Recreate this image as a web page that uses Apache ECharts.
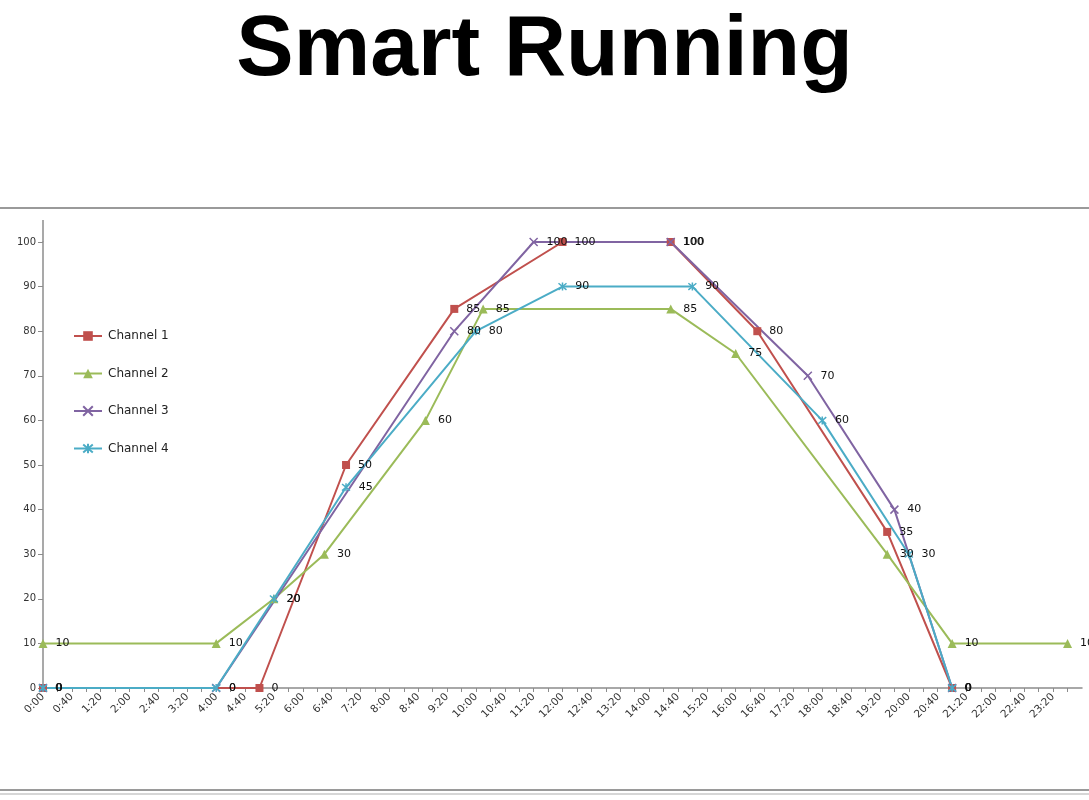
<!DOCTYPE html>
<html>
<head>
<meta charset="utf-8">
<script src="https://cdn.jsdelivr.net/npm/echarts@6/dist/echarts.min.js"></script>
<style>
html,body{margin:0;padding:0;background:#fff;}
#chart{width:1089px;height:800px;}
</style>
</head>
<body>
<div id="chart"></div>
<script>
// Times in minutes after midnight; values in percent
const seriesNames = ['Channel 1', 'Channel 2', 'Channel 3', 'Channel 4'];
const ch1Times  = [0, 300, 420, 570, 720, 870, 990, 1170, 1260];
const ch1Values = [0, 0, 50, 85, 100, 100, 80, 35, 0];
const ch2Times  = [0, 240, 320, 390, 530, 610, 870, 960, 1170, 1260, 1420];
const ch2Values = [10, 10, 20, 30, 60, 85, 85, 75, 30, 10, 10];
const ch3Times  = [0, 240, 570, 680, 870, 1060, 1180, 1260];
const ch3Values = [0, 0, 80, 100, 100, 70, 40, 0];
const ch4Times  = [0, 240, 320, 420, 600, 720, 900, 1080, 1200, 1260];
const ch4Values = [0, 0, 20, 45, 80, 90, 90, 60, 30, 0];
const yTicks = [0, 10, 20, 30, 40, 50, 60, 70, 80, 90, 100];

const colors = ['#C0504D', '#9BBB59', '#8064A2', '#4BACC6'];
const symbols = [
  'rect',
  'triangle',
  'path://M0,0L10,10M10,0L0,10',
  'path://M0,0L10,10M10,0L0,10M5,-1L5,11'
];

function fmtTime(v) {
  const h = Math.floor(v / 60), m = v % 60;
  return h + ':' + (m < 10 ? '0' + m : m);
}
function pairs(t, v) { return t.map((x, i) => [x, v[i]]); }

const allTimes = [ch1Times, ch2Times, ch3Times, ch4Times];
const allValues = [ch1Values, ch2Values, ch3Values, ch4Values];

const series = seriesNames.map((name, i) => {
  const isPath = i >= 2;
  return {
    name: name,
    type: 'line',
    data: pairs(allTimes[i], allValues[i]),
    symbol: symbols[i],
    symbolSize: i === 1 ? 9 : 8,
    showAllSymbol: true,
    lineStyle: { color: colors[i], width: 2 },
    itemStyle: isPath
      ? { color: colors[i], borderColor: colors[i], borderWidth: 1.5 }
      : { color: colors[i], borderColor: colors[i], borderWidth: 0 },
    label: {
      show: true,
      position: 'right',
      distance: 8,
      fontSize: 11,
      fontFamily: 'DejaVu Sans',
      color: '#111',
      formatter: p => p.value[1]
    },
    emphasis: { disabled: true },
    animation: false
  };
});

const chart = echarts.init(document.getElementById('chart'), null, { renderer: 'canvas' });
chart.setOption({
  backgroundColor: '#fff',
  animation: false,
  title: {
    text: 'Smart Running',
    left: 'center',
    top: 3,
    textStyle: {
      fontFamily: 'Liberation Sans',
      fontWeight: 'bold',
      fontSize: 86,
      color: '#000'
    }
  },
  legend: {
    orient: 'vertical',
    left: 73,
    top: 330,
    padding: 0,
    itemWidth: 28,
    itemHeight: 12,
    itemGap: 25.5,
    textStyle: { fontFamily: 'DejaVu Sans', fontSize: 12, color: '#222', padding: [0, 0, 0, 1] },
    data: seriesNames
  },
  grid: { left: 43, right: 7, top: 242, bottom: 112, containLabel: false },
  xAxis: {
    type: 'value',
    min: 0,
    max: 1440,
    interval: 20,
    axisLine: { show: true, lineStyle: { color: '#8c8c8c', width: 1.5 } },
    axisTick: { show: true, inside: false, length: 4, lineStyle: { color: '#8c8c8c' } },
    splitLine: { show: false },
    axisLabel: {
      rotate: 45,
      margin: 7,
      fontSize: 10.5,
      fontFamily: 'DejaVu Sans',
      color: '#333',
      showMaxLabel: false,
      formatter: v => (v % 40 === 0 && v < 1440) ? fmtTime(v) : ''
    }
  },
  yAxis: {
    type: 'value',
    min: 0,
    max: 100,
    interval: 10,
    axisLine: { show: true, lineStyle: { color: '#8c8c8c', width: 1.5 } },
    axisTick: { show: true, length: 5, lineStyle: { color: '#8c8c8c' } },
    splitLine: { show: false },
    axisLabel: {
      margin: 7,
      fontSize: 10,
      fontFamily: 'DejaVu Sans',
      color: '#333',
      formatter: v => yTicks.indexOf(v) >= 0 ? String(v) : ''
    }
  },
  graphic: [
    { type: 'line', shape: { x1: 0, y1: 208, x2: 1089, y2: 208 }, style: { stroke: '#9a9a9a', lineWidth: 2 }, silent: true },
    { type: 'line', shape: { x1: 43, y1: 220, x2: 43, y2: 242 }, style: { stroke: '#8c8c8c', lineWidth: 1.5 }, silent: true },
    { type: 'line', shape: { x1: 0, y1: 790, x2: 1089, y2: 790 }, style: { stroke: '#9a9a9a', lineWidth: 2 }, silent: true },
    { type: 'line', shape: { x1: 0, y1: 794, x2: 1089, y2: 794 }, style: { stroke: '#c8c8c8', lineWidth: 1.5 }, silent: true }
  ],
  series: series
});
</script>
</body>
</html>
